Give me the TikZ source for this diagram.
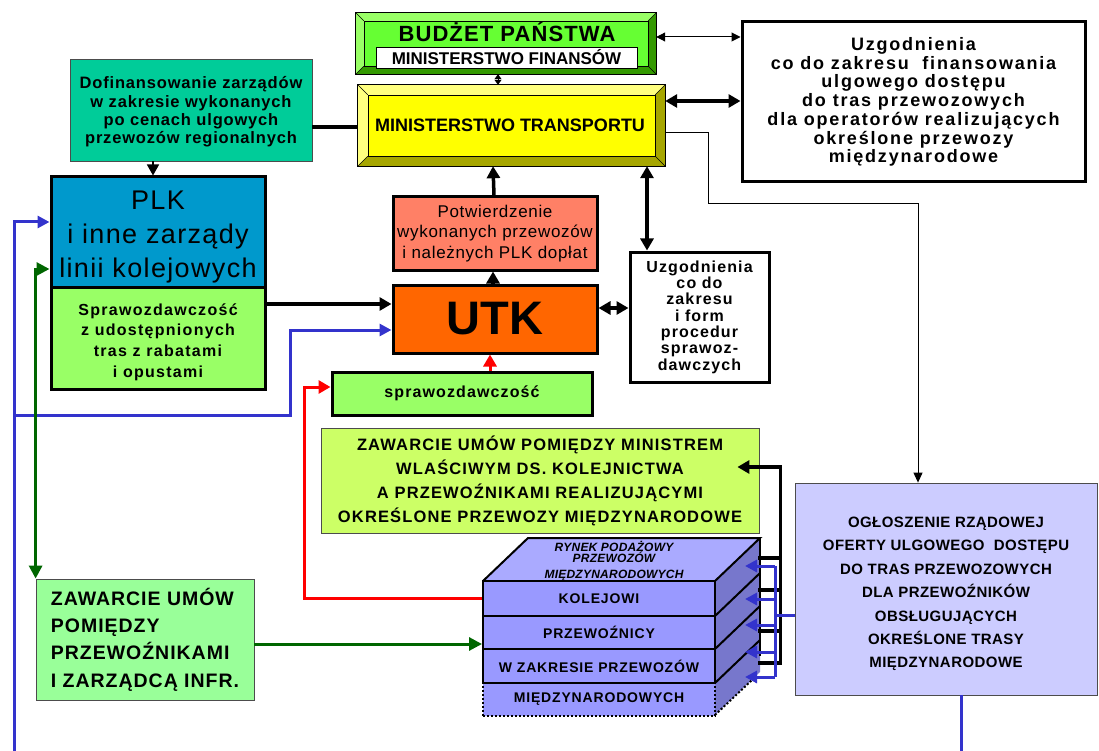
\documentclass[tikz,border=0pt]{standalone}
\usepackage{fontspec}
\setmainfont{Liberation Sans}
\usetikzlibrary{arrows.meta,calc}

\definecolor{budzetface}{HTML}{66FF33}
\definecolor{budzetlight}{HTML}{99FF66}
\definecolor{budzetdark}{HTML}{339900}
\definecolor{mtface}{HTML}{FFFF00}
\definecolor{mtlight}{HTML}{FFFF80}
\definecolor{mtdark}{HTML}{A6A600}
\definecolor{dofin}{HTML}{00CC99}
\definecolor{plkblue}{HTML}{0099CC}
\definecolor{lightgreen}{HTML}{99FF66}
\definecolor{salmon}{HTML}{FF8066}
\definecolor{utkorange}{HTML}{FF6600}
\definecolor{limegreen}{HTML}{CCFF66}
\definecolor{mintgreen}{HTML}{99FF99}
\definecolor{lavender}{HTML}{CCCCFF}
\definecolor{cubetop}{HTML}{AAAAFF}
\definecolor{cubefront}{HTML}{9999FF}
\definecolor{cubeside}{HTML}{7777CC}
\definecolor{linkblue}{HTML}{3333CC}
\definecolor{linkgreen}{HTML}{006600}
\definecolor{linkred}{HTML}{FF0000}

% raised frame: #1 node, #2 bevel, #3 light, #4 dark, #5 face
\newcommand{\bevelframe}[5]{%
  \fill[#4] (#1.north west) rectangle (#1.south east);
  \fill[#3] (#1.south west) -- (#1.north west) -- (#1.north east)
    -- ($(#1.north east)+(-#2,#2)$) -- ($(#1.north west)+(#2,#2)$)
    -- ($(#1.south west)+(#2,-#2)$) -- cycle;
  \fill[#5] ($(#1.north west)+(#2,#2)$) rectangle ($(#1.south east)+(-#2,-#2)$);
  \draw[line width=0.7pt] (#1.north west) rectangle (#1.south east);
  \draw[line width=0.5pt] ($(#1.north west)+(#2,#2)$) rectangle ($(#1.south east)+(-#2,-#2)$);
  \draw[line width=0.5pt] (#1.north west) -- ++(#2,#2) (#1.north east) -- ++(-#2,#2)
    (#1.south west) -- ++(#2,-#2) (#1.south east) -- ++(-#2,-#2);
}

\begin{document}
\begin{tikzpicture}[x=1pt,y=-1pt,
  thickbox/.style={draw=black, line width=3pt, inner sep=0pt, align=center},
  thinbox/.style={draw=black!70, line width=0.8pt, inner sep=0pt, align=center},
  boxtext/.style={inner sep=0pt, align=center},
  cuberow/.style={draw=black, line width=2pt, fill=cubefront, inner sep=0pt, minimum width=232,
    font=\bfseries\fontsize{14}{16}\selectfont\addfontfeature{LetterSpace=6}},
  heavy/.style={line width=3.5pt},
  heavyarrow/.style={line width=3.5pt, -{Triangle[length=12pt,width=13pt]}},
  heavyboth/.style={line width=3.5pt, {Triangle[length=12pt,width=13pt]}-{Triangle[length=12pt,width=13pt]}},
  thinboth/.style={line width=1pt, {Triangle[length=9pt,width=9pt]}-{Triangle[length=9pt,width=9pt]}},
  tinyboth/.style={line width=1pt, {Triangle[length=5pt,width=7pt]}-{Triangle[length=5pt,width=7pt]}},
  thinarrow/.style={line width=1pt, -{Triangle[length=10pt,width=9pt]}},
  smallarrow/.style={line width=1.5pt, -{Triangle[length=11pt,width=12pt]}},
  bluelink/.style={draw=linkblue, line width=3pt},
  bluearrow/.style={draw=linkblue, line width=3pt, -{Triangle[length=12pt,width=12pt]}},
  greenarrow/.style={draw=linkgreen, line width=3pt, -{Triangle[length=13pt,width=13pt]}},
  greenboth/.style={draw=linkgreen, line width=3pt, {Triangle[length=13pt,width=13pt]}-{Triangle[length=13pt,width=13pt]}},
  redarrow/.style={draw=linkred, line width=3pt, -{Triangle[length=12pt,width=13pt]}}]
\useasboundingbox (0,0) rectangle (1099,751);

% ministries
\node[minimum width=300, minimum height=61, inner sep=0pt] (budzet) at (506,43.5) {};
\bevelframe{budzet}{8}{budzetlight}{budzetdark}{budzetface}
\node[boxtext, font=\bfseries\fontsize{22}{24}\selectfont\addfontfeature{LetterSpace=5}] (budzettxt) at (507,32) {BUDŻET PAŃSTWA};
\node[draw=black, line width=0.8pt, fill=white, inner sep=0pt, minimum width=261, minimum height=21,
  font=\bfseries\fontsize{17}{18}\selectfont] (finanse) at (506.5,57.5) {MINISTERSTWO FINANSÓW};
\node[minimum width=307, minimum height=81, inner sep=0pt] (mt) at (511.5,125.5) {};
\bevelframe{mt}{10}{mtlight}{mtdark}{mtface}
\node[boxtext, font=\bfseries\fontsize{18}{20}\selectfont] (mttxt) at (510,125) {MINISTERSTWO TRANSPORTU};

\node[thickbox, fill=white, minimum width=343, minimum height=160,
  font=\bfseries\fontsize{18}{18.7}\selectfont\addfontfeature{LetterSpace=10}] (uzgfin) at (913.5,102)
  {Uzgodnienia\\co do zakresu ~finansowania\\ulgowego dostępu\\do tras przewozowych\\dla operatorów realizujących\\określone przewozy\\międzynarodowe};

\node[thinbox, fill=dofin, minimum width=242, minimum height=102] (dofin) at (191,110) {};
\node[boxtext, font=\bfseries\fontsize{16.5}{18.3}\selectfont\addfontfeature{LetterSpace=5}] (dofintxt) at ($(dofin)+(0,2)$)
  {Dofinansowanie zarządów\\w zakresie wykonanych\\po cenach ulgowych\\przewozów regionalnych};

% PLK
\node[thickbox, fill=plkblue, minimum width=214, minimum height=110] (plk) at (158,232) {};
\node[boxtext, font=\fontsize{27}{34}\selectfont\addfontfeature{LetterSpace=5}] (plktxt) at ($(plk)+(0,5)$)
  {PLK\\i inne zarządy\\linii kolejowych};
\node[thickbox, fill=lightgreen, minimum width=214, minimum height=102] (sprawplk) at (158,338) {};
\node[boxtext, font=\bfseries\fontsize{16}{20.7}\selectfont\addfontfeature{LetterSpace=8}] (sprawplktxt) at ($(sprawplk)+(0,4)$)
  {Sprawozdawczość\\z udostępnionych\\tras z rabatami\\i opustami};

% UTK
\node[thickbox, fill=salmon, minimum width=204, minimum height=73,
  font=\fontsize{17}{20.5}\selectfont\addfontfeature{LetterSpace=4}] (potw) at (495,233.5)
  {Potwierdzenie\\wykonanych przewozów\\i należnych PLK dopłat};
\node[thickbox, fill=utkorange, minimum width=204, minimum height=68,
  font=\bfseries\fontsize{47}{50}\selectfont] (utk) at (495,319) {UTK};
\node[thickbox, fill=white, minimum width=139, minimum height=130,
  font=\bfseries\fontsize{16}{16.3}\selectfont\addfontfeature{LetterSpace=7}] (uzgsm) at (699.5,317)
  {Uzgodnienia\\co do\\zakresu\\i form\\procedur\\sprawoz-\\dawczych};
\node[thickbox, fill=lightgreen, minimum width=260, minimum height=43,
  font=\bfseries\fontsize{16}{18}\selectfont\addfontfeature{LetterSpace=7}] (spraw) at (462,393.5) {sprawozdawczość};

\node[thinbox, fill=limegreen, minimum width=438, minimum height=105,
  font=\bfseries\fontsize{16.5}{24}\selectfont\addfontfeature{LetterSpace=7}] (zawmin) at (540,480.5)
  {ZAWARCIE UMÓW POMIĘDZY MINISTREM\\WLAŚCIWYM DS. KOLEJNICTWA\\A PRZEWOŹNIKAMI REALIZUJĄCYMI\\OKREŚLONE PRZEWOZY MIĘDZYNARODOWE};
\node[thinbox, fill=mintgreen, minimum width=218, minimum height=121, align=left,
  font=\bfseries\fontsize{19.5}{27.3}\selectfont\addfontfeature{LetterSpace=5}] (zawprz) at (145,639.5)
  {ZAWARCIE UMÓW\\POMIĘDZY\\PRZEWOŹNIKAMI\\I ZARZĄDCĄ INFR.};
\node[thinbox, fill=lavender, minimum width=302, minimum height=212] (ogl) at (946,589) {};
\node[boxtext, font=\bfseries\fontsize{15}{23.4}\selectfont\addfontfeature{LetterSpace=3}] (ogltxt) at ($(ogl)+(0,5)$)
  {OGŁOSZENIE RZĄDOWEJ\\OFERTY ULGOWEGO ~DOSTĘPU\\DO TRAS PRZEWOZOWYCH\\DLA PRZEWOŹNIKÓW\\OBSŁUGUJĄCYCH\\OKREŚLONE TRASY\\MIĘDZYNARODOWE};

% cube
\fill[cubetop] (483,581) -- (528,538) -- (760,538) -- (715,581) -- cycle;
\fill[cubeside] (715,581) -- (760,538) -- (760,672) -- (715,715) -- cycle;
\node[cuberow, minimum height=35] (kolejowi) at (599,598.5) {KOLEJOWI};
\node[cuberow, minimum height=33] (przew) at (599,632.5) {PRZEWOŹNICY};
\node[cuberow, minimum height=33, dash pattern=on 2pt off 2pt] (miedzy) at (599,699) {MIĘDZYNARODOWYCH};
\node[cuberow, minimum height=34] (zakres) at (599,666) {W ZAKRESIE PRZEWOZÓW};
\node[boxtext, font=\bfseries\itshape\fontsize{12}{11}\selectfont\addfontfeature{LetterSpace=2}] (rynek) at (614,561)
  {RYNEK PODAŻOWY\\PRZEWOZÓW\\[5pt]MIĘDZYNARODOWYCH};
\draw[line width=2pt] (483,581) -- (528,538) -- (760,538) -- (715,581);
\draw[line width=2pt] (760,538) -- (760,656);
\foreach \yy in {616,649,683}
  \draw[line width=2pt] (715,\yy) -- ++(45,-43);
\draw[line width=2pt, dash pattern=on 2pt off 2pt] (715,715) -- (752,680);

% black links
\draw[tinyboth] ($(budzet.south)+(-8,0)$) -- ($(mt.north)+(-13.5,0)$);
\draw[thinboth] ($(budzet.east)+(0,-6.5)$) -- ($(uzgfin.west)+(0,-65)$);
\draw[heavyboth] ($(mt.east)+(0,-24.5)$) -- ($(uzgfin.west)+(0,-1)$);
\draw[heavy] ($(dofin.east)+(0,17)$) -- ($(mt.west)+(0,1.5)$);
\draw[smallarrow] ($(dofin.south)+(-38,0)$) -- ($(plk.north)+(-5,0)$);
\draw[heavyarrow] ($(sprawplk.east)+(0,-34)$) -- ($(utk.west)+(0,-15)$);
\draw[heavyarrow] ($(potw.north)+(-1,0)$) -- ($(mt.south)+(-18.5,0)$);
\draw[heavyarrow] ($(utk.north)+(-2,0)$) -- ($(potw.south)+(-2,0)$);
\coordinate (mtlink) at ($(uzgsm.north)+(-52.5,0)$);
\draw[heavyboth] (mtlink |- mt.south) -- (mtlink);
\draw[heavyboth] ($(utk.east)+(0,-11)$) -- ($(uzgsm.west)+(0,-9)$);
\coordinate (mtbend) at (708,204);
\draw[thinarrow] ($(mt.east)+(0,7.5)$) -| (mtbend) -| ($(ogl.north)+(-28,0)$);
\foreach \yy in {558,590,631}
  \draw[heavy] (758,\yy) -- (780,\yy);
\draw[heavyarrow] (758,663) -| ($(zawmin.east)+(21,-13.5)$) -- ($(zawmin.east)+(-22,-13.5)$);

% blue links
\coordinate (blueleft) at (14,751);
\coordinate (bluefork) at (14,415);
\coordinate (blueright) at (961,751);
\draw[bluearrow] (blueleft) |- ($(plk.west)+(0,-10)$);
\draw[bluearrow] (bluefork) -| ($(utk.west)+(-101,11)$) -- ($(utk.west)+(0,11)$);
\draw[bluelink] ($(ogl.south)+(15,0)$) -- (blueright);
\draw[bluelink] ($(ogl.west)+(0,26)$) -- (775,615);
\draw[bluelink] (775,566) -- (775,677);
\foreach \yy in {566,599,625,652,677}
  \draw[bluearrow] (775,\yy) -- (745,\yy);

% green and red links
\draw[greenboth] ($(plk.west)+(0,37)$) -| (zawprz.north west);
\draw[greenarrow] ($(zawprz.east)+(0,4.5)$) -- ($(przew.west)+(0,11.5)$);
\draw[redarrow] (kolejowi.west) -| ($(spraw.west)+(-26,-6.5)$) -- ($(spraw.west)+(0,-6.5)$);
\draw[redarrow] ($(spraw.north)+(28,0)$) -- ($(utk.south)+(-5,0)$);
\end{tikzpicture}
\end{document}
